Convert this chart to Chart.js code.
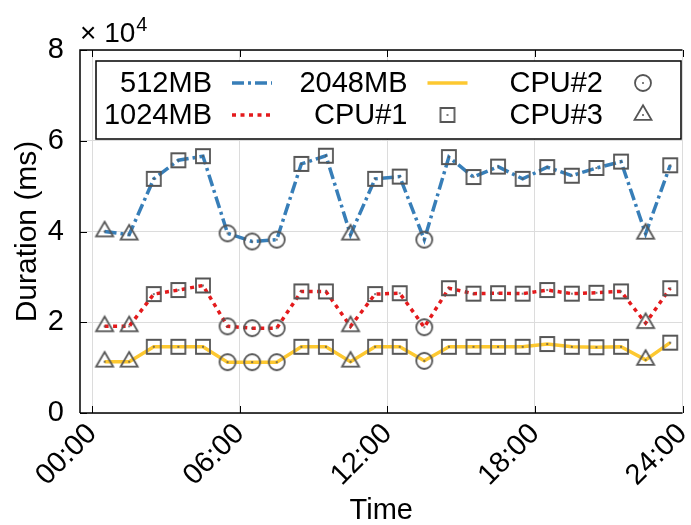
<!DOCTYPE html>
<html>
<head>
<meta charset="utf-8">
<script src="https://cdn.jsdelivr.net/npm/chart.js@4.4.1/dist/chart.umd.min.js"></script>
<style>
  body { margin: 0; background: #fff; }
  canvas { display: block; }
</style>
</head>
<body>
<canvas id="myChart" width="691" height="525"></canvas>
<script>
// hora de cada medida (centro de cada intervalo de una hora)
let Horas=[0.5,1.5,2.5,3.5,4.5,5.5,6.5,7.5,8.5,9.5,10.5,11.5,12.5,13.5,14.5,15.5,16.5,17.5,18.5,19.5,20.5,21.5,22.5,23.5];
// tipo de CPU asignada en cada hora (1, 2 o 3)
let TipoCPU=[3,3,1,1,1,2,2,2,1,1,3,1,1,2,1,1,1,1,1,1,1,1,3,1];
// duracion en ms segun la memoria
let Dur512=[40000,39300,51600,55700,56600,39600,37800,38200,54900,56700,39300,51600,52100,38200,56400,52000,54300,51600,54200,52300,54000,55400,39500,54600];
let Dur1024=[19100,19100,26200,27100,28100,19100,18700,18700,26800,26800,19100,26200,26400,18900,27500,26300,26400,26300,27100,26300,26500,26800,19800,27500];
let Dur2048=[11300,11300,14600,14600,14600,11200,11200,11200,14600,14600,11300,14600,14600,11500,14600,14600,14600,14600,15200,14600,14500,14600,11700,15500];
let TicksX=[0,6,12,18,24];
let TicksY=[0,20000,40000,60000,80000];

const fuente='"Liberation Sans", Arial, Helvetica, sans-serif';
Chart.defaults.color='#000';
Chart.defaults.font.family=fuente;

// marcadores huecos con punto central
function marcador(tipo){
    let c=document.createElement('canvas');
    c.width=24; c.height=24;
    let g=c.getContext('2d');
    let m=12;
    g.strokeStyle='#555';
    g.lineWidth=1.8;
    g.beginPath();
    if(tipo==1){
        g.rect(m-7,m-7,14,14);
    }else if(tipo==2){
        g.arc(m,m,8,0,2*Math.PI);
    }else{
        let s=17, h=s*Math.sqrt(3)/2;
        g.moveTo(m,m-2*h/3);
        g.lineTo(m+s/2,m+h/3);
        g.lineTo(m-s/2,m+h/3);
        g.closePath();
    }
    g.stroke();
    g.fillStyle='#555';
    g.beginPath();
    g.arc(m,m,1,0,2*Math.PI);
    g.fill();
    return c;
}
let Marcadores={1:marcador(1),2:marcador(2),3:marcador(3)};
let estilosPunto=TipoCPU.map(t=>Marcadores[t]);

function serie(valores){
    return Horas.map((h,i)=>({x:h,y:valores[i]}));
}

// leyenda en dos filas, texto a la izquierda y muestra a la derecha
let itemsLeyenda=[
    {texto:'512MB',ds:0},
    {texto:'1024MB',ds:1},
    {texto:'2048MB',ds:2},
    {texto:'CPU#1',cpu:1},
    {texto:'CPU#2',cpu:2},
    {texto:'CPU#3',cpu:3}
];

const marco={
    id:'marco',
    afterDraw(chart){
        const {ctx,chartArea:a,scales:{x,y}}=chart;
        ctx.save();
        // ejes y marcas hacia dentro
        ctx.strokeStyle='#000';
        ctx.lineWidth=1.5;
        ctx.beginPath();
        ctx.moveTo(a.left,a.bottom);
        ctx.lineTo(a.left,a.top);
        ctx.lineTo(a.right,a.top);
        ctx.moveTo(a.left,a.bottom);
        ctx.lineTo(a.right,a.bottom);
        ctx.stroke();
        ctx.lineWidth=1;
        ctx.beginPath();
        TicksX.forEach(t=>{
            let px=Math.round(x.getPixelForValue(t))+0.5;
            ctx.moveTo(px,a.bottom); ctx.lineTo(px,a.bottom-7);
            ctx.moveTo(px,a.top); ctx.lineTo(px,a.top+7);
        });
        TicksY.forEach(t=>{
            let py=Math.round(y.getPixelForValue(t))+0.5;
            ctx.moveTo(a.left,py); ctx.lineTo(a.left+7,py);
        });
        ctx.stroke();

        // factor de escala del eje y
        ctx.fillStyle='#000';
        ctx.textBaseline='alphabetic';
        ctx.textAlign='left';
        ctx.font='28px '+fuente;
        ctx.fillText('\u00d7 10',a.left,42);
        let w=ctx.measureText('\u00d7 10').width;
        ctx.font='20px '+fuente;
        ctx.fillText('4',a.left+w+1,31);

        // leyenda
        let bx=a.left+16, by=a.top+11, bw=585, bh=78;
        ctx.fillStyle='#fff';
        ctx.fillRect(bx,by,bw,bh);
        ctx.strokeStyle='#000';
        ctx.lineWidth=1.5;
        ctx.strokeRect(bx,by,bw,bh);
        ctx.font='29px '+fuente;
        ctx.textAlign='right';
        ctx.textBaseline='middle';
        itemsLeyenda.forEach((it,i)=>{
            let col=Math.floor(i/2), fila=i%2;
            let tx=bx+116+col*195.5;
            let ty=by+22+fila*32;
            ctx.fillStyle='#000';
            ctx.fillText(it.texto,tx,ty+1);
            let cx=tx+40;
            if(it.ds!==undefined){
                let d=chart.data.datasets[it.ds];
                ctx.save();
                ctx.strokeStyle=d.borderColor;
                ctx.lineWidth=d.borderWidth;
                ctx.setLineDash(d.borderDash||[]);
                ctx.beginPath();
                ctx.moveTo(cx-20,ty);
                ctx.lineTo(cx+20,ty);
                ctx.stroke();
                ctx.restore();
            }else{
                let img=Marcadores[it.cpu];
                ctx.drawImage(img,cx-img.width/2,ty-img.height/2);
            }
        });
        ctx.restore();
    }
};

var ctx=document.getElementById('myChart').getContext('2d');
var chart=new Chart(ctx,{
    type:'line',
    data:{
        datasets:[
            {
                label:'512MB',
                data:serie(Dur512),
                borderColor:'#377eb8',
                borderWidth:3.5,
                borderDash:[12,4,3,4],
                pointStyle:estilosPunto,
                pointRadius:5,
                fill:false
            },
            {
                label:'1024MB',
                data:serie(Dur1024),
                borderColor:'#e41a1c',
                borderWidth:3.5,
                borderDash:[4,4.5],
                pointStyle:estilosPunto,
                pointRadius:5,
                fill:false
            },
            {
                label:'2048MB',
                data:serie(Dur2048),
                borderColor:'#fdc830',
                borderWidth:3.5,
                pointStyle:estilosPunto,
                pointRadius:5,
                fill:false
            }
        ]
    },
    options:{
        responsive:false,
        animation:false,
        devicePixelRatio:1,
        layout:{padding:{top:50,right:6,left:0,bottom:0}},
        plugins:{legend:{display:false},tooltip:{enabled:false}},
        scales:{
            x:{
                type:'linear',
                min:-0.5,
                max:24,
                afterBuildTicks:s=>{s.ticks=TicksX.map(v=>({value:v}));},
                afterFit:s=>{s.height=112;s.paddingLeft=0;s.paddingRight=0;},
                grid:{color:'#dcdcdc',drawTicks:false},
                border:{display:false},
                ticks:{
                    autoSkip:false,
                    minRotation:45,
                    maxRotation:45,
                    padding:4,
                    font:{size:29},
                    callback:v=>String(v).padStart(2,'0')+':00'
                },
                title:{display:true,text:'Time',font:{size:29,lineHeight:1},padding:{top:0,bottom:0}}
            },
            y:{
                min:0,
                max:80000,
                afterBuildTicks:s=>{s.ticks=TicksY.map(v=>({value:v}));},
                afterFit:s=>{s.width=80;s.paddingTop=0;s.paddingBottom=0;},
                grid:{color:'#dcdcdc',drawTicks:false},
                border:{display:false},
                ticks:{
                    padding:16,
                    font:{size:29},
                    callback:v=>v/10000
                },
                title:{display:true,text:'Duration (ms)',font:{size:30,lineHeight:1},padding:{top:13,bottom:0}}
            }
        }
    },
    plugins:[marco]
});
</script>
</body>
</html>
